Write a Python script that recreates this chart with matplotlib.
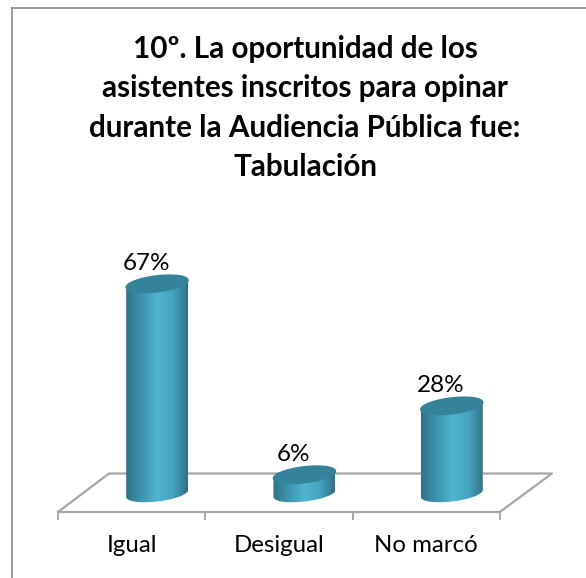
import matplotlib
matplotlib.use("Agg")
import matplotlib.pyplot as plt
import numpy as np
from matplotlib.patches import Polygon
from matplotlib.lines import Line2D
from matplotlib.colors import LinearSegmentedColormap

plt.rcParams['font.family'] = ['Lato', 'DejaVu Sans']

categories = ['Igual', 'Desigual', 'No marcó']
values = [67, 6, 28]
labels = ['67%', '6%', '28%']
title = '10º. La oportunidad de los\nasistentes inscritos para opinar\ndurante la Audiencia Pública fue:\nTabulación'

W, H = 586, 578
fig = plt.figure(figsize=(W/100, H/100), dpi=100)
ax = fig.add_axes([0, 0, 1, 1])

# one category = 147.3 px, one percent = 3.13 px
px_x = 147.3
px_y = 3.13
x0 = 58
y0 = 493.5

def dx(p): return p/px_x
def dy(p): return p/px_y

a = dx(31)
b = dy(8)
rise = dy(3.5)
shift = dx(25.5)

side = LinearSegmentedColormap.from_list('side', ['#2f7389', '#3d94ad', '#4fb4d0', '#46a5c1', '#31708a'])
gray = '#a6a6a6'

# floor and ticks
floor_y = dy(-18.5)
back_y = dy(20)
floor = [(0, floor_y), (3, floor_y), (3+dx(52), back_y), (dx(51), back_y), (0, floor_y)]
ax.plot(*zip(*floor), color=gray, lw=1.6, zorder=1)
for i in range(4):
    ax.plot([i, i], [floor_y, floor_y-dy(7)], color=gray, lw=1.4, zorder=1)

t = np.linspace(0, 2*np.pi, 121)
tt = np.linspace(np.pi, 0, 60)
grad = np.linspace(0, 1, 200).reshape(1, -1)
for i, (v, lab, cat) in enumerate(zip(values, labels, categories)):
    c = i+0.5+shift
    # lower edge left to right, then upper edge back
    bx = c+a*np.cos(tt)
    by = rise*np.cos(tt)-b*np.sin(tt)
    top_x = bx[::-1]
    top_y = v+rise*np.cos(tt[::-1])
    verts = list(zip(bx, by))+list(zip(top_x, top_y))
    im = ax.imshow(grad, extent=[c-a, c+a, -20, 100], cmap=side, aspect='auto', zorder=3)
    im.set_clip_path(Polygon(verts, closed=True, transform=ax.transData))
    ax.fill(c+a*np.cos(t), v+b*np.sin(t)+rise*np.cos(t), color='#35829b', zorder=4)
    ax.text(c-dx(11), v+dy(20), lab, ha='center', va='center', fontsize=17.5, color='black', zorder=5)
    ax.text(i+0.5, dy(y0-546), cat, ha='center', va='center', fontsize=17.3, color='black')

# imshow resets limits
ax.set_xlim((0-x0)/px_x, (W-x0)/px_x)
ax.set_ylim((y0-H)/px_y, y0/px_y)
ax.axis('off')

ax.text((305-x0)/px_x, (y0-108)/px_y, title, ha='center', va='center', fontsize=21.3, fontweight='bold', color='black', linespacing=1.49)

# chart frame, only left and top fall inside the crop
fig.add_artist(Line2D([12/W, 12/W], [0, 1-7.5/H], color='#8c8c8c', lw=1.2))
fig.add_artist(Line2D([12/W, 1], [1-7.5/H, 1-7.5/H], color='#8c8c8c', lw=1.2))

fig.savefig('out.png', dpi=100)
